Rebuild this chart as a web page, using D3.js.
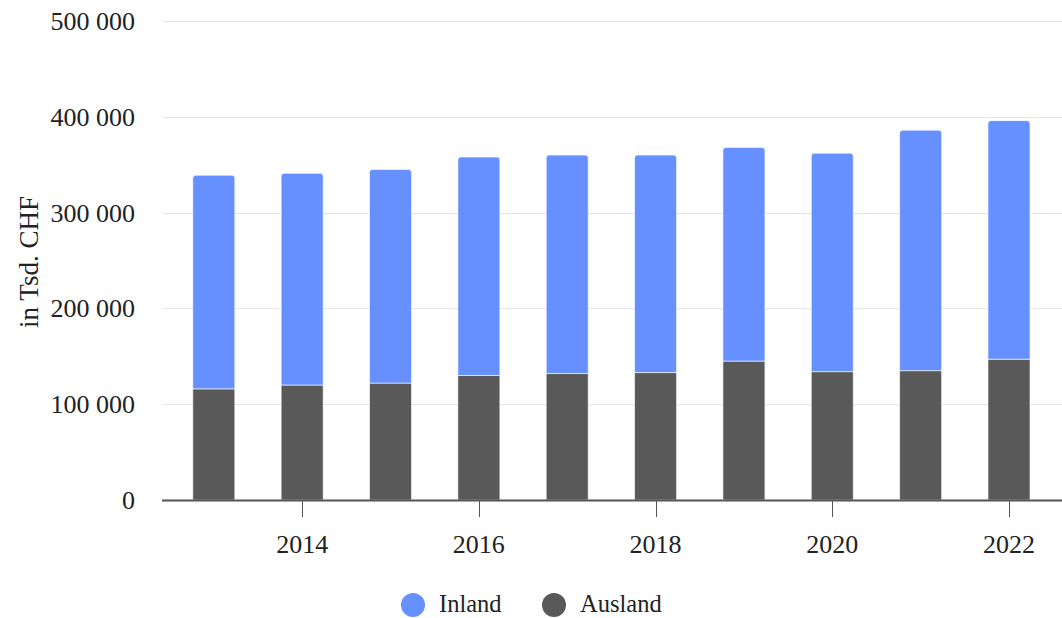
<!DOCTYPE html>
<html>
<head>
<meta charset="utf-8">
<script src="https://cdn.jsdelivr.net/npm/d3@7"></script>
<style>
  body { margin: 0; background: #fff; }
  text { font-family: "Liberation Serif", "Times New Roman", serif; fill: #222; }
</style>
</head>
<body>
<script>
let years = [2013, 2014, 2015, 2016, 2017, 2018, 2019, 2020, 2021, 2022];
let ausland = [116000, 120000, 122000, 130000, 132000, 133000, 145000, 134000, 135000, 147000];
let inland = [223000, 221000, 223000, 228000, 228000, 227000, 223000, 228000, 251000, 249000];
let yTicks = [0, 100000, 200000, 300000, 400000, 500000];
let xTicks = [2014, 2016, 2018, 2020, 2022];
let seriesNames = ["Inland", "Ausland"];
let colors = {Inland: "#6690ff", Ausland: "#595959"};

let W = 1062, H = 618;
let plotLeft = 163, plotRight = 1062, plotTop = 21, plotBottom = 500;

let svg = d3.select("body").append("svg")
  .attr("width", W)
  .attr("height", H);

let x = d3.scaleLinear().domain([2012.425, 2022.6]).range([plotLeft, plotRight]);
let y = d3.scaleLinear().domain([0, 500000]).range([plotBottom, plotTop]);

// gridlines
svg.selectAll("line.grid")
  .data(yTicks.filter(d => d > 0))
  .enter()
  .append("line")
  .attr("class", "grid")
  .attr("x1", plotLeft)
  .attr("x2", plotRight)
  .attr("y1", d => Math.round(y(d)) + 0.5)
  .attr("y2", d => Math.round(y(d)) + 0.5)
  .attr("stroke", "#e6e6e6")
  .attr("stroke-width", 1);

// y labels
let fmt = d => d3.format(",")(d).replace(/,/g, " ");
svg.selectAll("text.ylab")
  .data(yTicks)
  .enter()
  .append("text")
  .attr("class", "ylab")
  .attr("x", 135)
  .attr("y", d => y(d) + 9)
  .attr("text-anchor", "end")
  .style("font-size", "26px")
  .text(fmt);

svg.append("text")
  .attr("transform", "translate(38,262) rotate(-90)")
  .attr("text-anchor", "middle")
  .style("font-size", "27px")
  .text("in Tsd. CHF");

let rows = years.map((yr, i) => ({year: yr, Ausland: ausland[i], Inland: inland[i]}));
let stack = d3.stack().keys(["Ausland", "Inland"])(rows);
let bw = 42;

stack.forEach(layer => {
  svg.append("g").selectAll("path")
    .data(layer)
    .enter()
    .append("path")
    .attr("d", d => {
      let x0 = x(d.data.year) - bw / 2, x1 = x0 + bw;
      let y0 = y(d[1]), y1 = y(d[0]);
      if (layer.key === "Inland") {
        let r = 3;
        return "M" + x0 + "," + y1 + "V" + (y0 + r) + "Q" + x0 + "," + y0 + " " + (x0 + r) + "," + y0 +
          "H" + (x1 - r) + "Q" + x1 + "," + y0 + " " + x1 + "," + (y0 + r) + "V" + y1 + "Z";
      }
      return "M" + x0 + "," + y1 + "V" + y0 + "H" + x1 + "V" + y1 + "Z";
    })
    .attr("fill", colors[layer.key])
    .attr("stroke", "#ffffff")
    .attr("stroke-opacity", 0.6)
    .attr("stroke-width", 1);
});

// x axis
svg.append("line")
  .attr("x1", plotLeft - 1)
  .attr("x2", plotRight)
  .attr("y1", plotBottom + 0.5)
  .attr("y2", plotBottom + 0.5)
  .attr("stroke", "#555")
  .attr("stroke-width", 2);

svg.selectAll("line.xtick")
  .data(xTicks)
  .enter()
  .append("line")
  .attr("x1", d => Math.round(x(d)) + 0.5)
  .attr("x2", d => Math.round(x(d)) + 0.5)
  .attr("y1", plotBottom)
  .attr("y2", plotBottom + 17)
  .attr("stroke", "#555")
  .attr("stroke-width", 1);

svg.selectAll("text.xlab")
  .data(xTicks)
  .enter()
  .append("text")
  .attr("x", d => x(d))
  .attr("y", 553)
  .attr("text-anchor", "middle")
  .style("font-size", "26px")
  .text(d => d);

// legend
let legX = [413, 554];
seriesNames.forEach((n, i) => {
  svg.append("circle")
    .attr("cx", legX[i])
    .attr("cy", 605)
    .attr("r", 12)
    .attr("fill", colors[n]);
  svg.append("text")
    .attr("x", legX[i] + 26)
    .attr("y", 612)
    .style("font-size", "24.5px")
    .text(n);
});
</script>
</body>
</html>
